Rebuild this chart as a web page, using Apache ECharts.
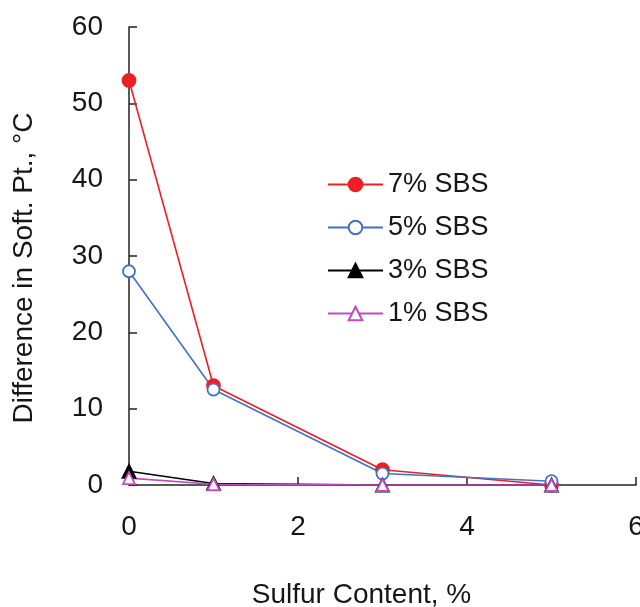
<!DOCTYPE html>
<html>
<head>
<meta charset="utf-8">
<script src="https://cdn.jsdelivr.net/npm/echarts@6/dist/echarts.min.js"></script>
<style>
  html, body { margin: 0; padding: 0; background: #fff; }
  #chart { width: 640px; height: 607px; }
</style>
</head>
<body>
<div id="chart"></div>
<script>
// Sulfur content (%) on the x axis
const sulfur = [0, 1, 3, 5];
// Difference in softening point (°C) for each SBS dosage
const sbs7 = [53, 13, 2, 0];
const sbs5 = [28, 12.5, 1.5, 0.5];
const sbs3 = [1.8, 0.2, 0, 0];
const sbs1 = [0.9, 0.1, 0, 0];

const seriesNames = ['7% SBS', '5% SBS', '3% SBS', '1% SBS'];
const xTicks = [0, 2, 4, 6];
const yTicks = [0, 10, 20, 30, 40, 50, 60];

const font = '"Liberation Sans", Arial, sans-serif';
const textColor = '#161616';
const pairs = vals => sulfur.map((x, i) => [x, vals[i]]);

const chart = echarts.init(document.getElementById('chart'), null, { renderer: 'canvas' });

function line(name, vals, color, symbol, fill, size) {
  return {
    name: name,
    type: 'line',
    data: pairs(vals),
    symbol: symbol,
    symbolSize: size,
    clip: false,
    lineStyle: { color: color, width: 1.6 },
    itemStyle: { color: fill, borderColor: color, borderWidth: 1.8 },
    emphasis: { disabled: true }
  };
}

chart.setOption({
  animation: false,
  backgroundColor: '#fff',
  grid: { left: 129, right: 4, top: 27, bottom: 122, containLabel: false, outerBoundsMode: 'none' },
  legend: {
    orient: 'vertical',
    left: 322,
    top: 166,
    itemWidth: 55,
    itemHeight: 17,
    itemGap: 16,
    textStyle: { fontFamily: font, fontSize: 27, color: textColor },
    data: seriesNames
  },
  xAxis: {
    type: 'value',
    min: xTicks[0],
    max: xTicks[xTicks.length - 1],
    interval: 2,
    name: 'Sulfur Content, %',
    nameLocation: 'middle',
    nameGap: 96,
    nameTextStyle: { fontFamily: font, fontSize: 28, color: textColor, padding: [0, 42, 0, 0] },
    axisLine: { lineStyle: { color: '#222', width: 1.5 } },
    axisTick: { inside: true, length: 8, lineStyle: { color: '#222', width: 1.5 } },
    axisLabel: { fontFamily: font, fontSize: 28, color: textColor, margin: 28 },
    splitLine: { show: false }
  },
  yAxis: {
    type: 'value',
    min: yTicks[0],
    max: yTicks[yTicks.length - 1],
    interval: 10,
    name: 'Difference in Soft. Pt., °C',
    nameLocation: 'middle',
    nameGap: 91,
    nameTextStyle: { fontFamily: font, fontSize: 28, color: textColor, padding: [0, 24, 0, 0] },
    axisLine: { show: true, lineStyle: { color: '#222', width: 1.5 } },
    axisTick: { show: true, inside: true, length: 8, lineStyle: { color: '#222', width: 1.5 } },
    axisLabel: { fontFamily: font, fontSize: 28, color: textColor, margin: 26 },
    splitLine: { show: false }
  },
  series: [
    line(seriesNames[0], sbs7, '#ee1f23', 'circle', '#ee1f23', 13),
    line(seriesNames[1], sbs5, '#4470c4', 'circle', '#ffffff', 12),
    line(seriesNames[2], sbs3, '#000000', 'triangle', '#000000', 13),
    line(seriesNames[3], sbs1, '#c24cbd', 'triangle', '#ffffff', 12)
  ]
});
</script>
</body>
</html>
